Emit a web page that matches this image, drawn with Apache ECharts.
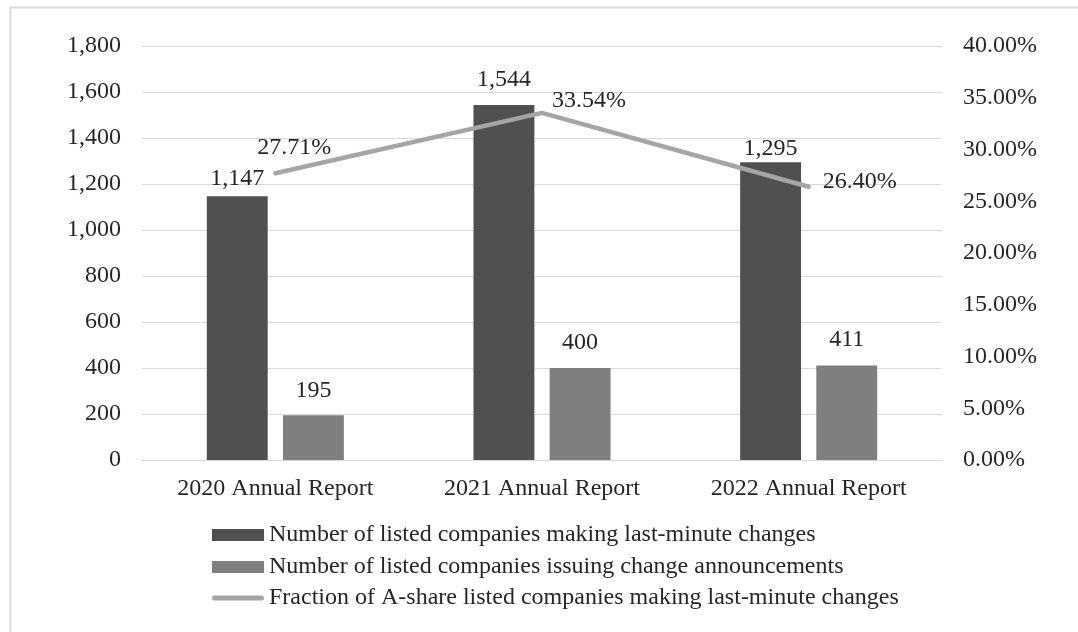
<!DOCTYPE html>
<html>
<head>
<meta charset="utf-8">
<title>Last-minute annual report changes</title>
<script src="https://cdn.jsdelivr.net/npm/echarts@6/dist/echarts.min.js"></script>
<style>
  html, body { margin: 0; padding: 0; background: #ffffff; }
  #chart { width: 1078px; height: 632px; }
</style>
</head>
<body>
<div id="chart"></div>
<script>
// Report years on the category axis
const categories = ['2020 Annual Report', '2021 Annual Report', '2022 Annual Report'];
// Number of listed companies making last-minute changes
const lastMinuteChanges = [1147, 1544, 1295];
// Number of listed companies issuing change announcements
const changeAnnouncements = [195, 400, 411];
// Fraction of A-share listed companies making last-minute changes (%)
const lastMinuteShare = [27.71, 33.54, 26.40];

// Left axis ticks (count) and right axis ticks (%)
const countAxis = { min: 0, max: 1800, interval: 200 };
const shareAxis = { min: 0, max: 40, interval: 5 };

const seriesNames = [
  'Number of listed companies making last-minute changes',
  'Number of listed companies issuing change announcements',
  'Fraction of A-share listed companies making last-minute changes'
];

// Label placement tweaks, one entry per category
const changesLabelGap = [5, 13, 1];
const announceLabelGap = [12, 13, 13.5];
const shareLabelOffset = [[19, -25], [47, -12], [51, -5]];

const FONT = "'Liberation Serif', 'Times New Roman', serif";
const TEXT = '#262626';
const GRID = '#d9d9d9';
const DARK = '#505050';
const MID = '#7f7f7f';
const LIGHT = '#a5a5a5';
const FS = 24;

const fmtCount = v => Number(v).toLocaleString('en-US');
const fmtPct = v => Number(v).toFixed(2) + '%';

const chart = echarts.init(document.getElementById('chart'), null, { renderer: 'canvas' });

const legendBase = {
  orient: 'vertical',
  left: 212,
  itemWidth: 52,
  padding: 0,
  selectedMode: false,
  textStyle: { fontFamily: FONT, fontSize: FS, color: TEXT }
};

chart.setOption({
  animation: false,
  backgroundColor: '#ffffff',
  graphic: [{
    type: 'rect',
    left: 8, top: 5,
    shape: { width: 1090, height: 650 },
    style: { fill: 'none', stroke: GRID, lineWidth: 2 },
    silent: true
  }],
  grid: { left: 142, right: 136, top: 46, bottom: 172, containLabel: false },
  legend: [
    Object.assign({}, legendBase, { top: 523, itemHeight: 12, icon: 'rect', data: [seriesNames[0]] }),
    Object.assign({}, legendBase, { top: 555, itemHeight: 12, icon: 'rect', data: [seriesNames[1]] }),
    Object.assign({}, legendBase, { top: 586, itemHeight: 24, data: [{
      name: seriesNames[2],
      icon: 'path://M2.5,9.5 L49.5,9.5 A2.5,2.5 0 0 1 49.5,14.5 L2.5,14.5 A2.5,2.5 0 0 1 2.5,9.5 Z'
    }] })
  ],
  xAxis: {
    type: 'category',
    data: categories,
    axisLine: { show: true, lineStyle: { color: GRID, width: 1 } },
    axisTick: { show: false },
    axisLabel: { fontFamily: FONT, fontSize: FS, color: TEXT, margin: 17 }
  },
  yAxis: [
    {
      type: 'value',
      min: countAxis.min, max: countAxis.max, interval: countAxis.interval,
      axisLine: { show: false },
      axisTick: { show: false },
      splitLine: { lineStyle: { color: GRID, width: 1 } },
      axisLabel: { fontFamily: FONT, fontSize: FS, color: TEXT, margin: 21, formatter: fmtCount }
    },
    {
      type: 'value',
      min: shareAxis.min, max: shareAxis.max, interval: shareAxis.interval,
      axisLine: { show: false },
      axisTick: { show: false },
      splitLine: { show: false },
      axisLabel: { fontFamily: FONT, fontSize: FS, color: TEXT, margin: 21, formatter: fmtPct }
    }
  ],
  series: [
    {
      name: seriesNames[0],
      type: 'bar',
      yAxisIndex: 0,
      barGap: '25%',
      barCategoryGap: '48.6%',
      itemStyle: { color: DARK },
      data: lastMinuteChanges.map((v, i) => ({
        value: v,
        label: { distance: changesLabelGap[i] }
      })),
      label: {
        show: true, position: 'top',
        fontFamily: FONT, fontSize: FS, color: TEXT,
        formatter: p => fmtCount(p.value)
      }
    },
    {
      name: seriesNames[1],
      type: 'bar',
      yAxisIndex: 0,
      itemStyle: { color: MID },
      data: changeAnnouncements.map((v, i) => ({
        value: v,
        label: { distance: announceLabelGap[i] }
      })),
      label: {
        show: true, position: 'top',
        fontFamily: FONT, fontSize: FS, color: TEXT,
        formatter: p => fmtCount(p.value)
      }
    },
    {
      name: seriesNames[2],
      type: 'line',
      yAxisIndex: 1,
      symbol: 'circle',
      symbolSize: 1,
      showSymbol: true,
      itemStyle: { color: LIGHT },
      lineStyle: { color: LIGHT, width: 4.5, cap: 'round' },
      data: lastMinuteShare.map((v, i) => ({
        value: v,
        label: { offset: shareLabelOffset[i] }
      })),
      label: {
        show: true, position: 'inside',
        fontFamily: FONT, fontSize: FS, color: TEXT,
        formatter: p => fmtPct(p.value)
      },
      z: 5
    }
  ]
});
</script>
</body>
</html>
